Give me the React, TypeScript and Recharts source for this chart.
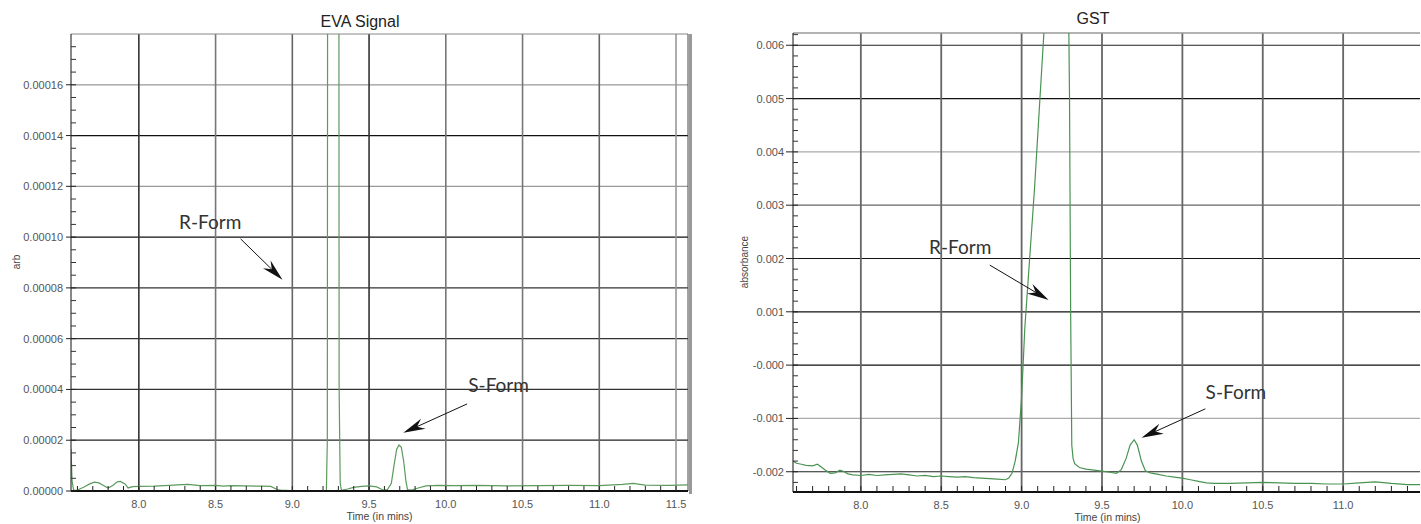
import React from 'react';
import { LineChart, Line, XAxis, YAxis, ReferenceLine, ReferenceDot } from 'recharts';

// ---------- EVA Signal (left) ----------
const evaTime = [
  7.558, 7.565, 7.575, 7.6, 7.64, 7.68, 7.71, 7.74, 7.77, 7.8, 7.83, 7.86, 7.88, 7.91, 7.93, 7.96,
  8.0, 8.1, 8.2, 8.28, 8.32, 8.4, 8.5, 8.55, 8.6, 8.7, 8.8, 8.86, 8.9, 8.93, 8.96, 9.0, 9.1, 9.2,
  9.222, 9.228, 9.234, 9.3, 9.305, 9.312, 9.32, 9.36, 9.4, 9.45, 9.5, 9.55, 9.59, 9.62, 9.645,
  9.665, 9.68, 9.695, 9.71, 9.725, 9.74, 9.75, 9.78, 9.82, 9.87, 9.95, 10.05, 10.2, 10.4, 10.6,
  10.8, 11.0, 11.15, 11.22, 11.3, 11.45, 11.578,
];
const evaSignal = [
  0.0000165, 0.000004, 0.0000003, 0.0000004, 0.0000015, 0.0000028, 0.0000035, 0.0000032, 0.0000022,
  0.0000012, 0.0000022, 0.0000036, 0.0000038, 0.0000028, 0.0000012, 0.0000017,
  0.0000018, 0.0000019, 0.0000022, 0.0000025, 0.0000026, 0.0000021, 0.0000022, 0.0000019, 0.0000021,
  0.000002, 0.0000019, 0.0000018, 0.0000006, 0.0000003, 0.0000003, 0.0000001, 0.0000001, 0.0000002,
  0.0000003, 0.00002, 0.0006, 0.0006, 0.00004, 0.000003, 0.0000003, 0.0000008, 0.0000014, 0.0000018,
  0.000002, 0.0000016, 0.0000004, 0.0000006, 0.000003,
  0.000011, 0.0000165, 0.0000181, 0.0000172, 0.000012, 0.000004, 0.0000006, 0.0000004, 0.0000012,
  0.000002, 0.0000022, 0.0000021, 0.0000022, 0.000002, 0.0000021,
  0.0000022, 0.0000021, 0.0000026, 0.000003, 0.0000023, 0.0000022, 0.0000024,
];
const evaXTicks = [8.0, 8.5, 9.0, 9.5, 10.0, 10.5, 11.0, 11.5];
const evaYTicks = [0, 0.00002, 0.00004, 0.00006, 0.00008, 0.0001, 0.00012, 0.00014, 0.00016];
const evaXDomain: [number, number] = [7.558, 11.578];
const evaYDomain: [number, number] = [0, 0.00018];

// ---------- GST (right) ----------
const gstTime = [
  7.578, 7.6, 7.63, 7.66, 7.7, 7.73, 7.75, 7.78, 7.81, 7.84, 7.87, 7.89, 7.92, 7.95, 8.0, 8.05, 8.1,
  8.15, 8.2, 8.25, 8.3, 8.35, 8.4, 8.45, 8.5, 8.55, 8.6, 8.65, 8.7, 8.75, 8.8, 8.85, 8.9, 8.92, 8.94,
  8.96, 8.98, 9.0, 9.02, 9.05, 9.08, 9.11, 9.14, 9.2, 9.27, 9.292, 9.298, 9.305, 9.312, 9.32, 9.33,
  9.36, 9.4, 9.45, 9.5, 9.55, 9.59, 9.62, 9.65, 9.675, 9.7, 9.72, 9.745, 9.77, 9.8, 9.85, 9.9, 9.95,
  10.0, 10.05, 10.1, 10.15, 10.2, 10.3, 10.4, 10.5, 10.6, 10.7, 10.8, 10.9, 11.0, 11.1, 11.2, 11.3,
  11.4, 11.478,
];
const gstAbsorbance = [
  -0.0018, -0.00184, -0.00186, -0.00188, -0.00189, -0.00186, -0.0019, -0.00197, -0.00203, -0.00202,
  -0.00197, -0.00199, -0.00204, -0.00206, -0.00207, -0.00205, -0.00207,
  -0.00206, -0.00205, -0.00204, -0.00206, -0.00208, -0.00207, -0.00209, -0.00208, -0.00209, -0.0021,
  -0.00209, -0.00211, -0.00212, -0.00213, -0.00214, -0.00215, -0.00212, -0.00203,
  -0.0018, -0.00146, -0.0006, 0.0007, 0.002, 0.0033, 0.0048, 0.0063, 0.0085, 0.009, 0.0068, 0.005,
  0.001, -0.0015, -0.00175, -0.00185,
  -0.00192, -0.00195, -0.00197, -0.00199, -0.00201, -0.00203, -0.00196, -0.00175, -0.0015, -0.0014,
  -0.0015, -0.0018, -0.00198, -0.00202, -0.00205, -0.00208, -0.0021,
  -0.00212, -0.00215, -0.00218, -0.00221, -0.00222, -0.00222, -0.00221, -0.0022, -0.00221, -0.00222,
  -0.00222, -0.00223, -0.00223, -0.00221, -0.00219, -0.00222,
  -0.00224, -0.00224,
];
const gstXTicks = [8.0, 8.5, 9.0, 9.5, 10.0, 10.5, 11.0];
const gstYTicks = [-0.002, -0.001, 0, 0.001, 0.002, 0.003, 0.004, 0.005, 0.006];
const gstXDomain: [number, number] = [7.578, 11.478];
const gstYDomain: [number, number] = [-0.00238, 0.00623];

// annotations (data coordinates)
const evaRForm = { label: 'R-Form', x: 8.465, y: 0.000106, from: [8.663, 0.0000993], to: [8.936, 0.0000832] };
const evaSForm = { label: 'S-Form', x: 10.344, y: 0.0000418, from: [10.139, 0.0000343], to: [9.723, 0.0000229] };
const gstRForm = { label: 'R-Form', x: 8.618, y: 0.002213, from: [8.802, 0.001876], to: [9.168, 0.001221] };
const gstSForm = { label: 'S-Form', x: 10.333, y: -0.000502, from: [10.143, -0.00082], to: [9.746, -0.001363] };

// ---------- helpers ----------
const steps = (a: number, b: number, s: number) => {
  const out: number[] = [];
  const n = Math.round((b - a) / s);
  for (let i = 0; i <= n; i++) out.push(+(a + i * s).toFixed(8));
  return out;
};
const evaXMinor = steps(7.6, 11.5, 0.1);
const evaYMinor = steps(0, 0.000175, 0.000005);
const gstXMinor = steps(7.6, 11.4, 0.1);
const gstYMinor = steps(-0.0022, 0.0062, 0.0002);

const evaData = evaTime.map((t, i) => ({ t, v: evaSignal[i] }));
const gstData = gstTime.map((t, i) => ({ t, v: gstAbsorbance[i] }));

const FONT = "'Liberation Sans', Arial, Helvetica, sans-serif";
const ANNOT_FONT = "Lato, 'DejaVu Sans', sans-serif";

const isMajor = (majors: number[], v: number) => majors.some((m) => Math.abs(m - v) < 1e-9);

const makeXTick = (majors: number[], fmt: (v: number) => string, labelDy: number, len: number) => (p: any) => {
  const { x, y, payload } = p;
  const v = payload.value;
  return (
    <g>
      <line x1={x} x2={x} y1={y} y2={y - len} stroke="#222" strokeWidth={1} />
      {isMajor(majors, v) && (
        <text x={x} y={y + labelDy} textAnchor="middle" fontSize={11} fill="#555" fontFamily={FONT}>
          {fmt(v)}
        </text>
      )}
    </g>
  );
};

const makeYTick = (majors: number[], fmt: (v: number) => string, outLen: number, inLen: number, gap: number) => (p: any) => {
  const { x, y, payload } = p;
  const v = payload.value;
  const major = isMajor(majors, v);
  return (
    <g>
      <line x1={x} x2={x + inLen} y1={y} y2={y} stroke={major ? '#222' : '#333'} strokeWidth={1} />
      {major && <line x1={x - outLen} x2={x} y1={y} y2={y} stroke="#222" strokeWidth={1} />}
      {major && (
        <text x={x - outLen - gap} y={y + 4} textAnchor="end" fontSize={11} fill="#555" fontFamily={FONT}>
          {fmt(v)}
        </text>
      )}
    </g>
  );
};

const arrowShape = (p: any) => {
  const { x1, y1, x2, y2 } = p;
  const dx = x2 - x1;
  const dy = y2 - y1;
  const len = Math.hypot(dx, dy) || 1;
  const ux = dx / len;
  const uy = dy / len;
  const nx = -uy;
  const ny = ux;
  const L = 22;
  const W = 5.5;
  const N = 15;
  const bx = x2 - ux * L;
  const by = y2 - uy * L;
  const mx = x2 - ux * N;
  const my = y2 - uy * N;
  return (
    <g>
      <line x1={x1} y1={y1} x2={mx} y2={my} stroke="#111" strokeWidth={1} />
      <polygon
        points={`${x2},${y2} ${bx + nx * W},${by + ny * W} ${mx},${my} ${bx - nx * W},${by - ny * W}`}
        fill="#111"
      />
    </g>
  );
};

const labelShape = (text: string) => (p: any) => (
  <text x={p.cx} y={p.cy + 7} textAnchor="middle" fontSize={19} fontWeight={400} fill="#333" fontFamily={ANNOT_FONT}>
    {text}
  </text>
);

const borderShadow = (p: any) => {
  const { x1, y1, y2 } = p;
  return (
    <g>
      <line x1={x1} x2={x1} y1={y1} y2={y2} stroke="#444" strokeWidth={1} />
      <line x1={x1 + 2.5} x2={x1 + 2.5} y1={y1 + 3} y2={y2} stroke="#999" strokeWidth={3} />
    </g>
  );
};

const renderAnnotation = (a: typeof evaRForm, key: string) => [
  <ReferenceLine
    key={key + '-arrow'}
    segment={[{ x: a.from[0], y: a.from[1] }, { x: a.to[0], y: a.to[1] }]}
    shape={arrowShape}
    ifOverflow="visible"
  />,
  <ReferenceDot key={key + '-text'} x={a.x} y={a.y} r={1} ifOverflow="visible" shape={labelShape(a.label)} />,
];

// grid styles (by tick index)
const evaHGridStroke = ['#222', '#333', '#333', '#333', '#111', '#999', '#111', '#999'];
const evaVGridStroke = ['#333', '#777', '#666', '#333', '#777', '#777', '#666', '#999'];
const gstHGridStroke = ['#222', '#aaa', '#111', '#111', '#111', '#666', '#aaa', '#111', '#222'];

const evaXTick = makeXTick(evaXTicks, (v) => v.toFixed(1), 17, 5);
const evaYTick = makeYTick(evaYTicks, (v) => v.toFixed(5), 5, 5, 3);
const gstXTick = makeXTick(gstXTicks, (v) => v.toFixed(1), 17, 6);
const gstYTick = makeYTick(gstYTicks, (v) => (Math.abs(v) < 1e-12 ? '-0.000' : v.toFixed(3)), 7, 5, 2);

export default function App() {
  return (
    <div style={{ position: 'absolute', left: 0, top: 0, width: 1421, height: 524, background: '#fff', overflow: 'hidden' }}>
      <div style={{ position: 'absolute', left: 0, top: 0 }}>
        <LineChart width={710} height={524} data={evaData} margin={{ top: 34, right: 22, left: 0, bottom: 0 }}>
          <XAxis
            dataKey="t"
            type="number"
            scale="linear"
            domain={evaXDomain}
            allowDataOverflow
            ticks={evaXMinor}
            interval={0}
            tickSize={0}
            tickMargin={0}
            tickLine={false}
            tick={evaXTick}
            axisLine={{ stroke: '#111', strokeWidth: 2 }}
            height={33}
          />
          <YAxis
            type="number"
            domain={evaYDomain}
            allowDataOverflow
            ticks={evaYMinor}
            interval={0}
            tickSize={0}
            tickMargin={0}
            tickLine={false}
            tick={evaYTick}
            axisLine={{ stroke: '#111' }}
            width={71}
          />
          {evaYTicks.slice(1).map((v, i) => (
            <ReferenceLine key={'eh' + i} y={v} stroke={evaHGridStroke[i]} strokeWidth={1.2} ifOverflow="visible" />
          ))}
          {evaXTicks.map((v, i) => (
            <ReferenceLine key={'ev' + i} x={v} stroke={evaVGridStroke[i]} strokeWidth={1.6} ifOverflow="visible" />
          ))}
          <ReferenceLine y={evaYDomain[1]} stroke="#888" strokeWidth={1.2} ifOverflow="visible" />
          <ReferenceLine x={evaXDomain[1]} shape={borderShadow} ifOverflow="visible" />
          <Line
            dataKey="v"
            type="linear"
            stroke="#5d9a5d"
            strokeWidth={1.2}
            dot={false}
            activeDot={false}
            isAnimationActive={false}
          />
          {renderAnnotation(evaRForm, 'er')}
          {renderAnnotation(evaSForm, 'es')}
        </LineChart>
      </div>
      <div style={{ position: 'absolute', left: 710, top: 0 }}>
        <LineChart width={711} height={524} data={gstData} margin={{ top: 33, right: 1, left: 0, bottom: 0 }}>
          <XAxis
            dataKey="t"
            type="number"
            scale="linear"
            domain={gstXDomain}
            allowDataOverflow
            ticks={gstXMinor}
            interval={0}
            tickSize={0}
            tickMargin={0}
            tickLine={false}
            tick={gstXTick}
            axisLine={{ stroke: '#111', strokeWidth: 2 }}
            height={32}
          />
          <YAxis
            type="number"
            domain={gstYDomain}
            allowDataOverflow
            ticks={gstYMinor}
            interval={0}
            tickSize={0}
            tickMargin={0}
            tickLine={false}
            tick={gstYTick}
            axisLine={{ stroke: '#111' }}
            width={83}
          />
          {gstYTicks.map((v, i) => (
            <ReferenceLine key={'gh' + i} y={v} stroke={gstHGridStroke[i]} strokeWidth={1.2} ifOverflow="visible" />
          ))}
          {gstXTicks.map((v, i) => (
            <ReferenceLine key={'gv' + i} x={v} stroke="#666" strokeWidth={1.8} ifOverflow="visible" />
          ))}
          <ReferenceLine y={gstYDomain[1]} stroke="#999" strokeWidth={1.5} ifOverflow="visible" />
          <Line
            dataKey="v"
            type="linear"
            stroke="#4a9452"
            strokeWidth={1.2}
            dot={false}
            activeDot={false}
            isAnimationActive={false}
          />
          {renderAnnotation(gstRForm, 'gr')}
          {renderAnnotation(gstSForm, 'gs')}
        </LineChart>
      </div>
      <svg
        width={1421}
        height={524}
        style={{ position: 'absolute', left: 0, top: 0, pointerEvents: 'none' }}
      >
        <text x={360} y={27} textAnchor="middle" fontSize={16} fill="#222" fontFamily={FONT}>
          EVA Signal
        </text>
        <text x={1093} y={24} textAnchor="middle" fontSize={16} fill="#222" fontFamily={FONT}>
          GST
        </text>
        <text x={379.5} y={520} textAnchor="middle" fontSize={10.5} fill="#444" fontFamily={FONT}>
          Time (in mins)
        </text>
        <text x={1107.5} y={520.5} textAnchor="middle" fontSize={10.5} fill="#444" fontFamily={FONT}>
          Time (in mins)
        </text>
        <text x={19.5} y={262} textAnchor="middle" fontSize={10} fill="#444" fontFamily={FONT} transform="rotate(-90 19.5 262)">
          arb
        </text>
        <text x={747.5} y={262} textAnchor="middle" fontSize={10} fill="#444" fontFamily={FONT} transform="rotate(-90 747.5 262)">
          absorbance
        </text>
      </svg>
    </div>
  );
}
